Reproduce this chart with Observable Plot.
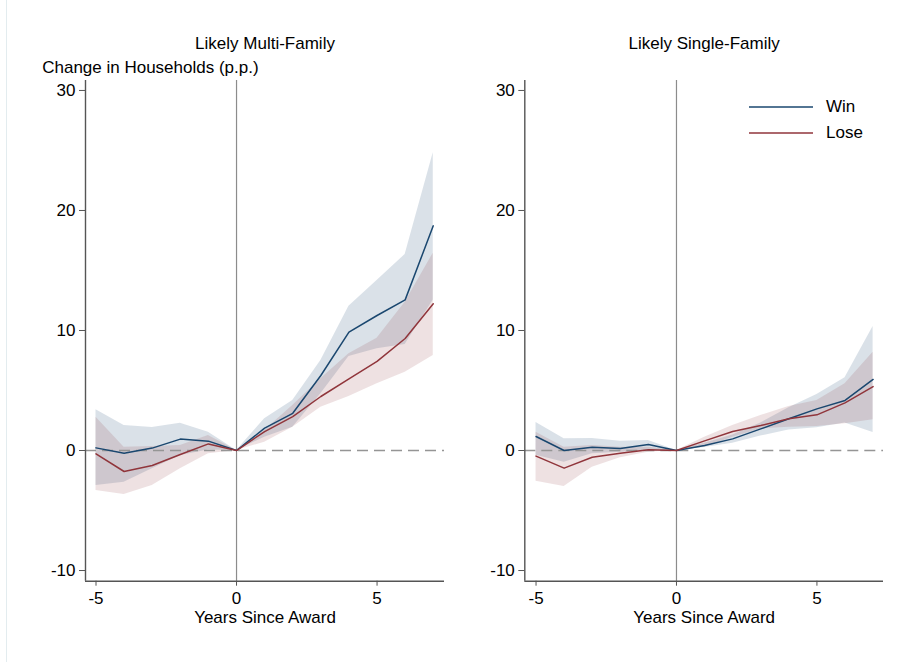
<!DOCTYPE html>
<html>
<head>
<meta charset="utf-8">
<script src="https://cdn.jsdelivr.net/npm/d3@7"></script>
<script src="https://cdn.jsdelivr.net/npm/@observablehq/plot@0.6"></script>
<style>
  body { margin: 0; background: #fff; }
  #wrap { position: relative; width: 902px; height: 666px; background: #fff; font-family: "Liberation Sans", Arial, sans-serif; }
  .panel { position: absolute; top: 0; }
  #legend { position: absolute; left: 749px; top: 93.7px; font-size: 17px; color: #000; }
  #legend .row { display: flex; align-items: center; height: 26px; }
  #legend svg { margin-right: 13px; }
  #edge { position: absolute; left: 6px; top: 0; width: 1px; height: 662px; background: #e3ecef; }
</style>
</head>
<body>
<div id="wrap">
  <div id="edge"></div>
  <div id="left" class="panel" style="left:0"></div>
  <div id="right" class="panel" style="left:451px"></div>
  <div id="legend"></div>
</div>
<script>
// ---- data ----
const years = [-5, -4, -3, -2, -1, 0, 1, 2, 3, 4, 5, 6, 7];

// Likely Multi-Family
const mfWin    = [0.22, -0.22, 0.2, 0.95, 0.78, 0, 1.86, 3.1, 6.25, 9.86, 11.25, 12.55, 18.72];
const mfWinHi  = [3.39, 2.08, 1.92, 2.28, 1.53, 0, 2.64, 4.17, 7.5, 12.03, 14.17, 16.33, 24.8];
const mfWinLo  = [-2.92, -2.64, -1.53, -0.42, 0.05, 0, 1.1, 1.94, 4.72, 7.83, 8.47, 8.83, 12.55];
const mfLose   = [-0.28, -1.75, -1.25, -0.33, 0.55, 0, 1.58, 2.83, 4.5, 5.97, 7.42, 9.33, 12.22];
const mfLoseHi = [2.78, 0.28, 0.33, 0.42, 1.25, 0, 1.67, 3.75, 5.97, 8.06, 9.36, 12.36, 16.44];
const mfLoseLo = [-3.33, -3.67, -2.92, -1.53, -0.28, 0, 0.69, 1.94, 3.61, 4.5, 5.56, 6.53, 7.92];

// Likely Single-Family
const sfWin    = [1.17, 0, 0.28, 0.17, 0.5, 0, 0.42, 0.97, 1.8, 2.64, 3.47, 4.17, 5.92];
const sfWinHi  = [2.33, 0.97, 1.0, 0.78, 0.83, 0, 0.6, 1.3, 2.3, 3.56, 4.67, 6.06, 10.33];
const sfWinLo  = [-0.4, -0.97, -0.28, -0.14, -0.05, 0, 0.25, 0.6, 1.2, 1.7, 1.9, 2.3, 1.5];
const sfLose   = [-0.47, -1.47, -0.56, -0.22, 0.06, 0, 0.8, 1.58, 2.08, 2.64, 2.97, 3.97, 5.33];
const sfLoseHi = [1.53, 0.28, 0.42, 0.28, 0.28, 0, 1.1, 2.08, 2.92, 3.67, 4.17, 5.56, 8.19];
const sfLoseLo = [-2.56, -3.0, -1.39, -0.61, -0.14, 0, 0.28, 1.1, 1.8, 1.94, 2.0, 2.22, 2.56];

const seriesNames = ["Win", "Lose"];
const colors = {Win: "#1a476f", Lose: "#90353b"};
const xTicks = [-5, 0, 5];
const yTicks = [-10, 0, 10, 20, 30];
const panelTitles = ["Likely Multi-Family", "Likely Single-Family"];
const yLabel = "Change in Households (p.p.)";
const xLabel = "Years Since Award";

function rows(mid, lo, hi) {
  return years.map((x, i) => ({x, y: mid[i], lo: lo[i], hi: hi[i]}));
}

const fmt = d => String(d);

function panel({title, win, lose, xDomain, marginLeft, marginRight, showYLabel}) {
  const yDomain = [-10.89, 30.83];
  const axisColor = "#555";
  const marks = [
    Plot.areaY(win, {x: "x", y1: "lo", y2: "hi", fill: colors.Win, fillOpacity: 0.16}),
    Plot.areaY(lose, {x: "x", y1: "lo", y2: "hi", fill: colors.Lose, fillOpacity: 0.15}),
    Plot.ruleY([0], {stroke: "#959595", strokeWidth: 1.4, strokeDasharray: "11,6"}),
    Plot.ruleX([0], {stroke: "#8c8c8c", strokeWidth: 1.2}),
    Plot.lineY(win, {x: "x", y: "y", stroke: colors.Win, strokeWidth: 1.5}),
    Plot.lineY(lose, {x: "x", y: "y", stroke: colors.Lose, strokeWidth: 1.5}),
    Plot.ruleX([xDomain[0]], {stroke: axisColor, strokeWidth: 1.4}),
    Plot.ruleY([yDomain[0]], {stroke: axisColor, strokeWidth: 1.4}),
    Plot.axisY({ticks: yTicks, tickFormat: fmt, tickSize: 6, tickPadding: 4, stroke: axisColor, fill: "#000", label: null}),
    Plot.axisX({ticks: xTicks, tickFormat: fmt, tickSize: 5, tickPadding: 6, stroke: axisColor, fill: "#000", label: null}),
    Plot.text([title], {frameAnchor: "top", lineAnchor: "middle", dy: -36.7, fill: "#000"}),
    Plot.text([xLabel], {frameAnchor: "bottom", lineAnchor: "middle", dy: 36, fill: "#000"})
  ];
  if (showYLabel) {
    marks.push(Plot.text([yLabel], {frameAnchor: "top-left", textAnchor: "start", lineAnchor: "middle", dx: -43.3, dy: -13.3, fill: "#000"}));
  }
  return Plot.plot({
    width: 451,
    height: 666,
    marginTop: 80,
    marginBottom: 85.3,
    marginLeft,
    marginRight,
    x: {domain: xDomain, axis: null},
    y: {domain: yDomain, axis: null},
    style: {fontFamily: "'Liberation Sans', Arial, sans-serif", fontSize: "17px", color: "#000", background: "transparent", overflow: "visible"},
    marks
  });
}

document.getElementById("left").append(panel({
  title: panelTitles[0],
  win: rows(mfWin, mfWinLo, mfWinHi),
  lose: rows(mfLose, mfLoseLo, mfLoseHi),
  xDomain: [-5.374, 7.40],
  marginLeft: 85,
  marginRight: 7,
  showYLabel: true
}));

document.getElementById("right").append(panel({
  title: panelTitles[1],
  win: rows(sfWin, sfWinLo, sfWinHi),
  lose: rows(sfLose, sfLoseLo, sfLoseHi),
  xDomain: [-5.40, 7.37],
  marginLeft: 73.3,
  marginRight: 19,
  showYLabel: false
}));

// legend
const legend = document.getElementById("legend");
for (const name of seriesNames) {
  const row = document.createElement("div");
  row.className = "row";
  row.innerHTML = `<svg width="64" height="4"><line x1="0" x2="64" y1="2" y2="2" stroke="${colors[name]}" stroke-width="1.5"/></svg><span>${name}</span>`;
  legend.append(row);
}
</script>
</body>
</html>
